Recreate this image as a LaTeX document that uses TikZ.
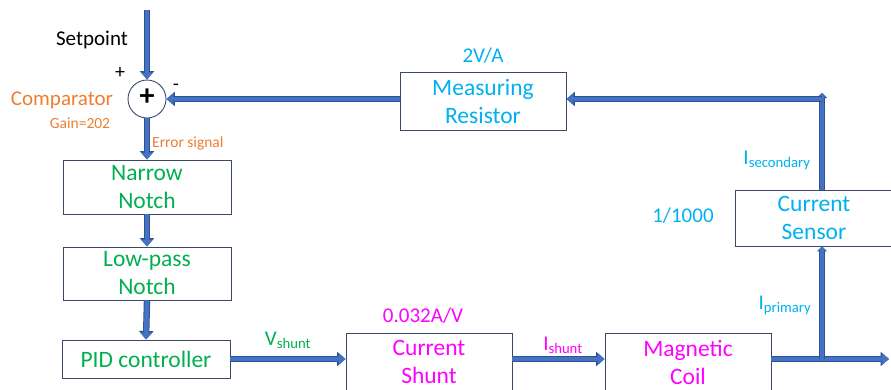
\documentclass[tikz,border=0pt]{standalone}
\usepackage{fontspec}
\setmainfont{Carlito}
\usetikzlibrary{arrows.meta}
\definecolor{arr}{HTML}{4472C4}
\definecolor{arrdark}{HTML}{2F528F}
\definecolor{bord}{HTML}{3A4A66}
\definecolor{cgreen}{HTML}{00B050}
\definecolor{ccyan}{HTML}{00B0F0}
\definecolor{cmag}{HTML}{FF00FF}
\definecolor{corange}{HTML}{ED7D31}
\tikzset{
  blk/.style={draw=bord, line width=0.9pt, fill=white, inner sep=0pt, align=center,
    minimum width=166pt, font=\fontsize{23.5}{28}\selectfont},
  flow/.style={draw=arr, line width=4.6pt, -{Triangle[width=11.5pt,length=7pt]},
    preaction={draw=arrdark, line width=6.4pt, -{Triangle[width=14pt,length=8.5pt]}}},
  flowsmall/.style={draw=arr, line width=4.6pt, -{Triangle[width=8pt,length=4pt]},
    preaction={draw=arrdark, line width=6.4pt, -{Triangle[width=10pt,length=5pt]}}},
  lbl/.style={inner sep=0pt, font=\fontsize{21}{24}\selectfont},
  small/.style={inner sep=0pt, font=\fontsize{15.5}{18}\selectfont},
}
\begin{document}
\begin{tikzpicture}[x=1pt,y=-1pt]
\useasboundingbox (0,0) rectangle (891,389);
% coordinates
\coordinate (top) at (147,10);
\coordinate (jn) at (822,359);
\coordinate (out) at (889,359);
\coordinate (corner) at (822,93);
\coordinate (fb) at (822,99);
% blocks
\node[blk, minimum width=168pt, minimum height=54pt, text=cgreen] (nn) at (147,187) {Narrow\\Notch};
\node[blk, minimum width=168pt, minimum height=53pt, text=cgreen] (lp) at (147,273.5) {Low-pass\\Notch};
\node[blk, minimum width=168pt, minimum height=38pt, text=cgreen] (pid) at (146,359) {PID controller};
\node[blk, minimum height=58pt, text=ccyan] (mr) at (483,101) {Measuring\\Resistor};
\node[blk, minimum height=58pt, text=cmag] (cs) at (429,362) {Current\\Shunt};
\node[blk, minimum height=58pt, text=cmag] (mc) at (688,362) {Magnetic\\Coil};
\node[blk, minimum width=158pt, minimum height=56pt, text=ccyan] (sen) at (814,218) {Current\\Sensor};
\node[draw=bord, line width=0.9pt, circle, minimum size=38pt, inner sep=0pt] (cmp) at (147,99) {};
\node[inner sep=0pt, font=\fontsize{30}{30}\selectfont\bfseries] (cmpplus) at (147,97.5) {+};
% connectors
\draw[flow] (top) -- (cmp.north);
\draw[flow] (cmp.south) -- (nn.north);
\draw[flow] (nn.south) -- (lp.north);
\draw[flow] (lp.south) -- (pid.north);
\draw[flow] (pid.east) -- (pid.east -| cs.west);
\draw[flow] (cs.east |- jn) -- (mc.west |- jn);
\draw[flow] (mc.east |- jn) -- (out);
\draw[flowsmall] (jn) -- (jn |- sen.south);
\draw[flowsmall] (jn |- sen.north) -- (corner);
\draw[flow] (fb) -- (fb -| mr.east);
\draw[flow] (mr.west |- fb) -- (cmp.east |- fb);
% labels
\node[lbl] (sp) at (92,40) {Setpoint};
\node[lbl, font=\fontsize{20}{20}\selectfont] (plus) at (120,73) {+};
\node[lbl, font=\fontsize{20}{20}\selectfont] (minus) at (176,87) {-};
\node[lbl, text=corange] (cmpl) at (62,100) {Comparator};
\node[small, text=corange] (gain) at (80,123) {Gain=202};
\node[small, text=corange, anchor=west] (err) at (152,143) {Error signal};
\node[lbl, text=ccyan] (gmr) at (483,56) {2V/A};
\node[lbl, text=ccyan] (isec) at (777,160) {I\textsubscript{secondary}};
\node[lbl, text=ccyan] (gsen) at (683,216) {1/1000};
\node[lbl, text=ccyan] (iprim) at (785,305) {I\textsubscript{primary}};
\node[lbl, text=cgreen] (vsh) at (288,340) {V\textsubscript{shunt}};
\node[lbl, text=cmag] (gsh) at (423,316) {0.032A/V};
\node[lbl, text=cmag] (ish) at (563,345) {I\textsubscript{shunt}};
\end{tikzpicture}
\end{document}
